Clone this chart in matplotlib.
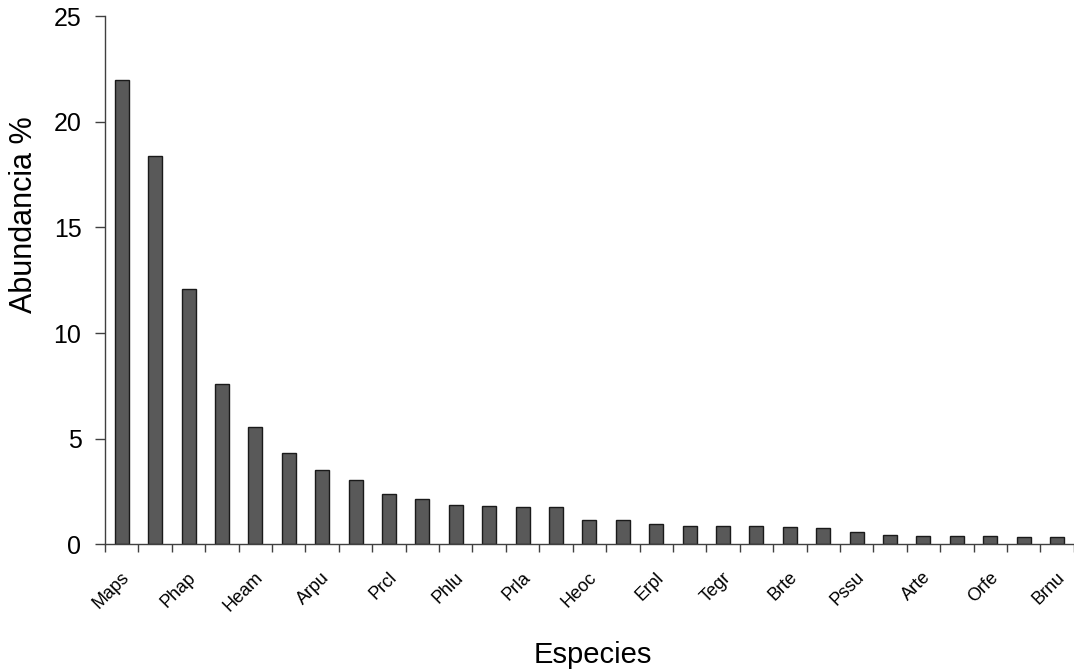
import matplotlib
matplotlib.use("Agg")
import matplotlib.pyplot as plt
import matplotlib.transforms as mtransforms
from matplotlib.ticker import FixedLocator, MultipleLocator

# Relative abundance (%) per species, ranked from most to least abundant
labels = ["Maps", "", "Phap", "", "Heam", "", "Arpu", "", "Prcl", "", "Phlu", "",
          "Prla", "", "Heoc", "", "Erpl", "", "Tegr", "", "Brte", "", "Pssu", "",
          "Arte", "", "Orfe", "", "Brnu"]
abundance = [22.0, 18.4, 12.07, 7.6, 5.55, 4.3, 3.53, 3.05, 2.4, 2.15, 1.87, 1.81,
             1.75, 1.75, 1.16, 1.16, 0.97, 0.86, 0.86, 0.86, 0.8, 0.75, 0.56, 0.45,
             0.39, 0.39, 0.39, 0.33, 0.33]

plt.rcParams["font.family"] = ["Liberation Sans", "DejaVu Sans"]

fig = plt.figure(figsize=(10.74, 6.72), dpi=100)
ax = fig.add_axes([0.0978, 0.19, 0.902, 0.786])

x = list(range(len(abundance)))
ax.bar(x, abundance, width=0.42, color="#595959", edgecolor="#1a1a1a", linewidth=1.0)

ax.set_xlim(-0.5, len(abundance) - 0.5)
ax.set_ylim(0, 25)
ax.yaxis.set_major_locator(MultipleLocator(5))

for side in ("top", "right"):
    ax.spines[side].set_visible(False)
for side in ("left", "bottom"):
    ax.spines[side].set_color("#404040")
    ax.spines[side].set_linewidth(1.0)

# category boundaries carry the tick marks, centres carry the labels
ax.set_xticks(x)
ax.set_xticklabels(labels, rotation=45, ha="right", va="center",
                   rotation_mode="anchor", fontsize=13)
ax.tick_params(axis="x", which="major", length=0, pad=22)
ax.xaxis.set_minor_locator(FixedLocator([i - 0.5 for i in range(len(abundance) + 1)]))
ax.tick_params(axis="x", which="minor", length=6, width=1.0, color="#404040",
               direction="out")
shift = mtransforms.ScaledTranslation(5 / 100, 0, fig.dpi_scale_trans)
for lab in ax.get_xticklabels():
    lab.set_transform(lab.get_transform() + shift)

ax.tick_params(axis="y", length=7, width=1.0, color="#404040", labelsize=18, pad=10)

ax.set_xlabel("Especies", fontsize=21)
ax.xaxis.set_label_coords(0.503, -0.183)
ax.set_ylabel("Abundancia %", fontsize=22)
ax.yaxis.set_label_coords(-0.068, 0.624)

fig.savefig("out.png", dpi=100)
